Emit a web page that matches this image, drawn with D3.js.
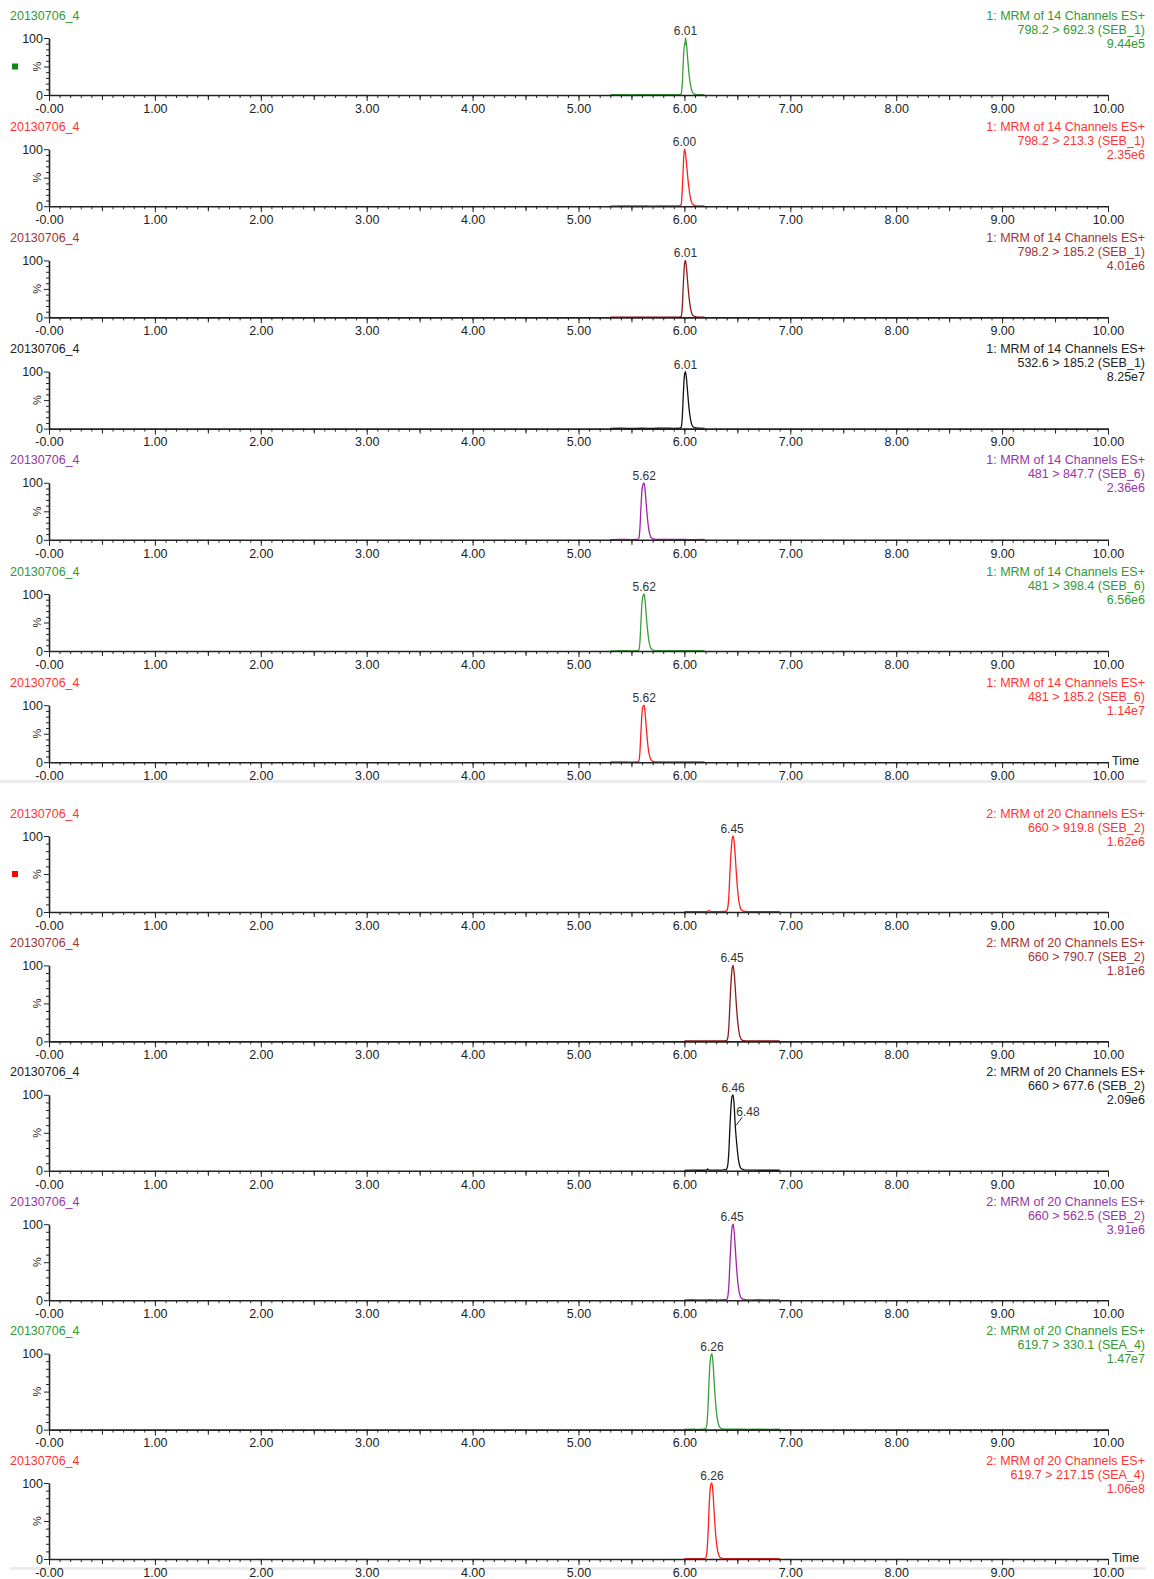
<!DOCTYPE html>
<html>
<head>
<meta charset="utf-8">
<script src="https://cdn.jsdelivr.net/npm/d3@7"></script>
<style>
body { margin: 0; background: #fff; }
svg { display: block; font-family: "Liberation Sans", Arial, sans-serif; }
</style>
</head>
<body>
<div id="cContainer"></div>
<script>
// x axis ticks
var xTicks = [0, 1, 2, 3, 4, 5, 6, 7, 8, 9, 10];
var xTickLabels = ["-0.00", "1.00", "2.00", "3.00", "4.00", "5.00", "6.00", "7.00", "8.00", "9.00", "10.00"];

var sampleName = "20130706_4";
var functionNames = ["1: MRM of 14 Channels ES+", "2: MRM of 20 Channels ES+"];

// one entry per trace, top to bottom
var traceGroup = [0, 0, 0, 0, 0, 0, 0, 1, 1, 1, 1, 1, 1];
var traceColor = ["green", "red", "brown", "black", "purple", "green", "red",
                  "red", "brown", "black", "purple", "green", "red"];
var transitions = ["798.2 > 692.3 (SEB_1)", "798.2 > 213.3 (SEB_1)", "798.2 > 185.2 (SEB_1)",
                   "532.6 > 185.2 (SEB_1)", "481 > 847.7 (SEB_6)", "481 > 398.4 (SEB_6)",
                   "481 > 185.2 (SEB_6)", "660 > 919.8 (SEB_2)", "660 > 790.7 (SEB_2)",
                   "660 > 677.6 (SEB_2)", "660 > 562.5 (SEB_2)", "619.7 > 330.1 (SEA_4)",
                   "619.7 > 217.15 (SEA_4)"];
var intensities = ["9.44e5", "2.35e6", "4.01e6", "8.25e7", "2.36e6", "6.56e6", "1.14e7",
                   "1.62e6", "1.81e6", "2.09e6", "3.91e6", "1.47e7", "1.06e8"];
// peak labels: [time, % height]
var peakLabels = [
	[[6.01, 100]], [[6.00, 100]], [[6.01, 100]], [[6.01, 100]], [[5.62, 100]], [[5.62, 100]], [[5.62, 100]],
	[[6.45, 100]], [[6.45, 100]], [[6.46, 100], [6.48, 60]], [[6.45, 100]], [[6.26, 100]], [[6.26, 100]]
];

// traces: [time (min), relative intensity %]
var traces = [
	[[5.30,0.4],[5.40,0.7],[5.50,0.3],[5.60,0.6],[5.70,0.4],[5.80,0.7],[5.90,0.4],[5.95,0.6],[5.97,2],[5.98,20],[5.99,60],[6.00,90],[6.005,87],[6.01,100],[6.02,88],[6.03,66],[6.04,44],[6.05,27],[6.06,15],[6.07,8],[6.08,4],[6.09,2],[6.11,0.8],[6.15,0.5],[6.19,0.4]],
	[[5.30,0.3],[5.40,0.5],[5.50,0.4],[5.60,0.5],[5.70,0.3],[5.80,0.5],[5.90,0.4],[5.95,0.5],[5.97,3],[5.98,30],[5.99,72],[6.00,100],[6.01,93],[6.02,75],[6.03,54],[6.04,36],[6.05,22],[6.06,12],[6.07,6],[6.08,3],[6.10,1.2],[6.13,0.6],[6.19,0.4]],
	[[5.30,0.4],[5.40,0.6],[5.50,0.3],[5.60,0.5],[5.70,0.4],[5.80,0.6],[5.90,0.3],[5.95,0.5],[5.97,2],[5.98,18],[5.99,58],[6.00,92],[6.01,100],[6.02,86],[6.03,64],[6.04,42],[6.05,26],[6.06,14],[6.07,7],[6.08,3.5],[6.10,1.4],[6.13,0.6],[6.19,0.4]],
	[[5.30,0.5],[5.40,0.7],[5.50,0.4],[5.60,0.6],[5.70,0.5],[5.80,0.7],[5.90,0.5],[5.95,0.6],[5.97,2.5],[5.98,20],[5.99,60],[6.00,93],[6.01,100],[6.02,87],[6.03,65],[6.04,43],[6.05,26],[6.06,14],[6.07,7],[6.08,3.5],[6.10,1.5],[6.13,0.7],[6.19,0.5]],
	[[5.30,0.4],[5.40,0.6],[5.50,0.4],[5.55,0.6],[5.57,2.5],[5.58,20],[5.59,58],[5.60,88],[5.61,98],[5.62,100],[5.63,85],[5.64,62],[5.65,40],[5.66,23],[5.67,12],[5.68,6],[5.69,3],[5.71,1.2],[5.75,0.6],[5.85,0.5],[5.95,0.6],[6.05,0.4],[6.19,0.5]],
	[[5.30,0.3],[5.40,0.5],[5.50,0.3],[5.55,0.5],[5.57,2],[5.58,16],[5.59,52],[5.60,85],[5.61,97],[5.62,100],[5.63,86],[5.64,63],[5.65,41],[5.66,24],[5.67,13],[5.68,6],[5.69,3],[5.71,1.2],[5.75,0.6],[5.85,0.4],[5.95,0.6],[6.05,0.4],[6.19,0.5]],
	[[5.30,0.4],[5.40,0.5],[5.50,0.3],[5.55,0.5],[5.57,2.2],[5.58,18],[5.59,55],[5.60,87],[5.61,98],[5.62,100],[5.63,84],[5.64,61],[5.65,39],[5.66,22],[5.67,12],[5.68,6],[5.69,2.8],[5.71,1.1],[5.75,0.6],[5.85,0.4],[5.95,0.5],[6.05,0.4],[6.19,0.5]],
	[[6.00,0.4],[6.08,0.6],[6.16,0.5],[6.21,0.6],[6.23,1.8],[6.25,0.6],[6.32,0.5],[6.38,0.7],[6.40,1.5],[6.41,6],[6.42,22],[6.43,52],[6.44,78],[6.45,95],[6.46,100],[6.47,92],[6.48,74],[6.49,52],[6.50,33],[6.51,19],[6.52,10],[6.53,5],[6.54,2.5],[6.56,1],[6.60,0.5],[6.70,0.6],[6.80,0.4],[6.90,0.5]],
	[[6.00,0.5],[6.08,0.6],[6.16,0.5],[6.24,0.7],[6.32,0.5],[6.38,0.7],[6.40,1.4],[6.41,5],[6.42,20],[6.43,50],[6.44,77],[6.45,95],[6.46,100],[6.47,90],[6.48,71],[6.49,49],[6.50,31],[6.51,18],[6.52,9],[6.53,4.5],[6.54,2.2],[6.56,1],[6.60,0.6],[6.70,0.5],[6.80,0.6],[6.90,0.5]],
	[[6.00,0.6],[6.08,0.8],[6.16,0.7],[6.21,1],[6.22,2.5],[6.23,1],[6.30,0.8],[6.36,0.9],[6.38,1.8],[6.39,1],[6.40,2.5],[6.41,8],[6.42,26],[6.43,58],[6.44,84],[6.45,98],[6.46,100],[6.47,86],[6.48,60],[6.49,42],[6.50,27],[6.51,15],[6.52,8],[6.53,4],[6.55,1.8],[6.58,1],[6.65,0.8],[6.75,0.7],[6.90,0.7]],
	[[6.00,0.4],[6.08,0.6],[6.16,0.4],[6.24,0.6],[6.32,0.5],[6.38,0.6],[6.40,1.3],[6.41,5],[6.42,20],[6.43,50],[6.44,78],[6.45,96],[6.46,100],[6.47,90],[6.48,70],[6.49,48],[6.50,30],[6.51,17],[6.52,9],[6.53,4.5],[6.54,2.2],[6.56,1],[6.60,0.5],[6.70,0.6],[6.80,0.4],[6.90,0.5]],
	[[6.00,0.4],[6.06,0.6],[6.12,0.4],[6.18,0.5],[6.20,1.2],[6.21,5],[6.22,22],[6.23,55],[6.24,84],[6.25,97],[6.26,100],[6.27,88],[6.28,66],[6.29,44],[6.30,27],[6.31,15],[6.32,8],[6.33,4],[6.34,2],[6.36,0.9],[6.40,0.5],[6.50,0.6],[6.60,0.4],[6.70,0.5],[6.80,0.4],[6.90,0.5]],
	[[6.00,0.4],[6.06,0.5],[6.12,0.4],[6.18,0.5],[6.20,1.3],[6.21,6],[6.22,24],[6.23,57],[6.24,86],[6.25,98],[6.26,100],[6.27,87],[6.28,64],[6.29,42],[6.30,25],[6.31,14],[6.32,7],[6.33,3.5],[6.34,1.8],[6.36,0.8],[6.40,0.5],[6.50,0.5],[6.60,0.4],[6.70,0.5],[6.80,0.4],[6.90,0.5]]
];

var textColors = { green: "#339933", red: "#ff3333", brown: "#a33434", black: "#222222", purple: "#9933a8" };
var lineColors = { green: "#3a9f3a", red: "#ff1f1f", brown: "#8c1c1c", black: "#111111", purple: "#a222a8" };

drawChart();

function drawChart() {
	var width = 1154, height = 1579;
	var svg = d3.select("#cContainer").append("svg")
		.attr("width", width)
		.attr("height", height);

	var x = d3.scaleLinear().domain([0, 10]).range([49, 1108]);
	var minorX = d3.range(0, 100.5, 1).map(function(d) { return d / 10; });

	// group layout
	var groupTop = [95, 912];      // axis y of first panel in group
	var groupStep = [111.2, 129.4];
	var groupPlotH = [57, 76];

	// separators
	svg.append("rect").attr("x", 0).attr("y", 780).attr("width", 1146).attr("height", 3).attr("fill", "#ececec");
	svg.append("rect").attr("x", 10).attr("y", 1567).attr("width", 1136).attr("height", 3).attr("fill", "#ececec");

	var line = d3.line()
		.x(function(d) { return x(d[0]); })
		.curve(d3.curveMonotoneX);

	var idxInGroup = [0, 0];
	for (var i = 0; i < traces.length; i++) {
		var gi = traceGroup[i];
		var k = idxInGroup[gi]++;
		var axisY = groupTop[gi] + k * groupStep[gi];
		var plotH = groupPlotH[gi];
		var plotTop = axisY - plotH;
		var y = d3.scaleLinear().domain([0, 100]).range([axisY, plotTop]);
		var tc = textColors[traceColor[i]];
		var g = svg.append("g");

		// headers
		g.append("text").attr("x", 10).attr("y", plotTop - 18.5)
			.attr("font-size", 12.5).attr("fill", tc).text(sampleName);
		var hdr = [functionNames[gi], transitions[i], intensities[i]];
		hdr.forEach(function(t, j) {
			g.append("text").attr("x", 1145).attr("y", plotTop - 18.5 + j * 14)
				.attr("text-anchor", "end").attr("font-size", 12.5).attr("fill", tc).text(t);
		});

		// legend square on first panel of group
		if (k === 0) {
			g.append("rect").attr("x", 12).attr("y", y(50) - 3).attr("width", 6).attr("height", 6)
				.attr("fill", gi === 0 ? "#118811" : "#ff0000");
		}

		// trace
		line.y(function(d) { return y(d[1]); });
		g.append("path").datum(traces[i])
			.attr("d", line)
			.attr("fill", "none")
			.attr("stroke", lineColors[traceColor[i]])
			.attr("stroke-width", 1.3);

		// peak labels
		peakLabels[i].forEach(function(p, j) {
			if (j === 0) {
				g.append("text").attr("x", x(p[0])).attr("y", y(p[1]) - 3)
					.attr("text-anchor", "middle").attr("font-size", 12).attr("fill", "#333")
					.text(p[0].toFixed(2));
			} else {
				g.append("line").attr("x1", x(p[0]) + 1).attr("y1", y(p[1]))
					.attr("x2", x(p[0]) + 7).attr("y2", y(p[1]) - 8)
					.attr("stroke", "#333").attr("stroke-width", 1);
				g.append("text").attr("x", x(p[0]) + 1).attr("y", y(p[1]) - 9)
					.attr("text-anchor", "start").attr("font-size", 12).attr("fill", "#333")
					.text(p[0].toFixed(2));
			}
		});

		// x axis: minor, half, major ticks
		var gx = g.append("g").attr("transform", "translate(0," + axisY + ")");
		gx.append("g").call(d3.axisBottom(x).tickValues(minorX).tickSize(3).tickFormat(""))
			.call(function(s) { s.select(".domain").remove(); });
		gx.append("g").call(d3.axisBottom(x).tickValues([0.5, 1.5, 2.5, 3.5, 4.5, 5.5, 6.5, 7.5, 8.5, 9.5]).tickSize(5).tickFormat(""))
			.call(function(s) { s.select(".domain").remove(); });
		gx.append("g").call(d3.axisBottom(x).tickValues(xTicks).tickSize(6).tickSizeOuter(0).tickPadding(3)
				.tickFormat(function(d, j) { return xTickLabels[j]; }))
			.call(function(s) {
				s.select(".domain").attr("stroke-width", 1.6);
				s.selectAll("text").attr("font-size", 12.5).attr("font-family", "Liberation Sans, Arial, sans-serif").attr("fill", "#222");
			});
		gx.selectAll("line").attr("stroke", "#222");
		gx.selectAll(".domain").attr("stroke", "#222");

		// y axis
		var gy = g.append("g").attr("transform", "translate(49,0)");
		gy.append("g").call(d3.axisLeft(y).tickValues([10, 20, 30, 40, 60, 70, 80, 90]).tickSize(3).tickFormat(""))
			.call(function(s) { s.select(".domain").remove(); });
		gy.append("g").call(d3.axisLeft(y).tickValues([0, 50, 100]).tickSize(5).tickSizeOuter(0).tickPadding(1)
				.tickFormat(function(d) { return d === 50 ? "" : d; }))
			.call(function(s) {
				s.select(".domain").attr("stroke-width", 1.6);
				s.selectAll("text").attr("font-size", 12.5).attr("font-family", "Liberation Sans, Arial, sans-serif").attr("fill", "#222");
			});
		gy.selectAll("line").attr("stroke", "#222");
		gy.selectAll(".domain").attr("stroke", "#222");
		gy.append("text").attr("transform", "translate(-8," + y(50) + ") rotate(-90)")
			.attr("text-anchor", "middle").attr("font-size", 11).attr("fill", "#222").text("%");

		// Time label on last panel of each group
		if (i === 6 || i === 12) {
			g.append("text").attr("x", 1112).attr("y", axisY + 3)
				.attr("font-size", 12.5).attr("fill", "#222").text("Time");
		}
	}
}
</script>
</body>
</html>
